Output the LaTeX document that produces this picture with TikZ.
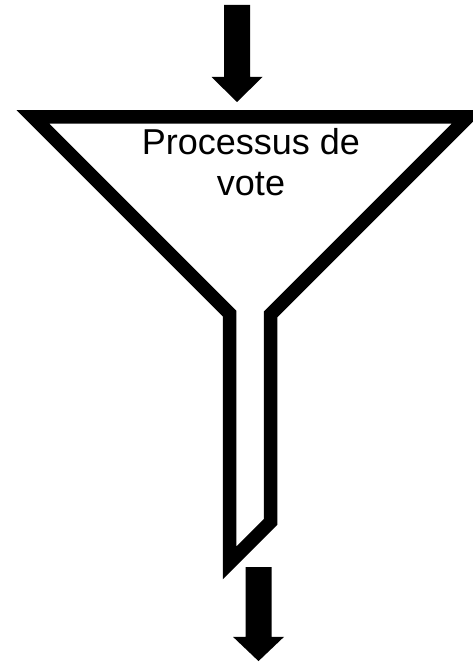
\documentclass[tikz,border=0pt]{standalone}
\usepackage{fontspec}
\setmainfont{Liberation Sans}
\usetikzlibrary{positioning}
\tikzset{
  bigarrow/.pic={
    \fill (-13,0)--(13,0)--(13,72)--(25.5,72)--(0,97)--(-25.5,72)--(-13,72)--cycle;
  },
  funnelline/.style={line width=13.5pt,line join=miter,draw=black},
  funneltext/.style={inner sep=0pt,align=center,font=\fontsize{36}{41}\selectfont}
}
\begin{document}
\begin{tikzpicture}[x=1pt,y=-1pt]
\useasboundingbox (0,0) rectangle (473,663);
% entree
\pic at (237,5) {bigarrow};
% entonnoir
\draw[funnelline](33,117)--(468,117)--(270.5,314.5)--(270.5,522)--(229.5,563)--(229.5,313.5)--cycle;
\node[funneltext,anchor=base] (vote) at (251,195) {Processus de\\vote};
% sortie
\pic[yscale=0.97] at (258.5,567) {bigarrow};
\end{tikzpicture}
\end{document}
